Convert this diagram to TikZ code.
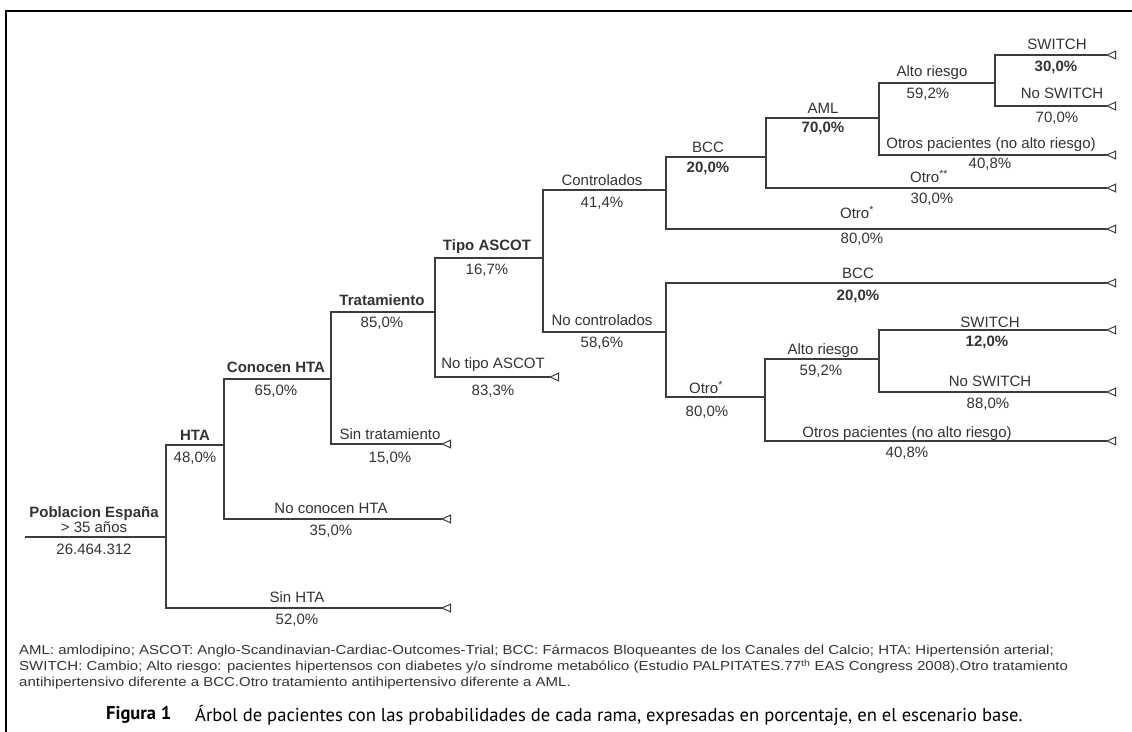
\documentclass[tikz,border=0pt]{standalone}
\usepackage{fontspec}
\setmainfont{Liberation Sans}
\newfontfamily\capfont{PT Sans}
\usetikzlibrary{arrows.meta}
\definecolor{ink}{HTML}{333333}
\definecolor{branch}{HTML}{3C3C3C}

\begin{document}
\begin{tikzpicture}[x=1pt,y=-1pt,
  lbl/.style={text=ink, inner sep=0pt, text height=10.7pt, text depth=0pt,
    font=\fontsize{15}{17}\selectfont},
  blbl/.style={lbl, font=\fontsize{15}{17}\selectfont\bfseries},
  ftxt/.style={text=ink, inner sep=0pt, anchor=west, text height=9.3pt, text depth=0pt,
    font=\fontsize{13}{15}\selectfont},
  edge/.style={draw=branch, line width=1.3pt},
  leaf/.style={edge, -{Triangle[open, reversed, length=10pt, width=9pt, line width=1pt]}},
]
\useasboundingbox (0,0) rectangle (1132,731);

% outer frame
\draw[line width=2pt, black] (6,732) -- (6,11) -- (1133,11);

% ---------- decision points ----------
\coordinate (start) at (25,537);
\coordinate (nRoot) at (166,537);
\coordinate (nHTA)  at (224,445);
\coordinate (nCon)  at (331,379);
\coordinate (nTrat) at (435,312);
\coordinate (nTipo) at (543,258);
\coordinate (nCtrl) at (666,190);
\coordinate (nBCC)  at (766,157);
\coordinate (nAML)  at (879,118);
\coordinate (nAR)   at (995,83);
\coordinate (nNoC)  at (666,332);
\coordinate (nOtro) at (765,397);
\coordinate (nAR2)  at (879,359);

% ---------- terminal points ----------
\coordinate (lSinHTA)  at (451,608);
\coordinate (lNoCon)   at (451,519);
\coordinate (lSinTrat) at (451,444);
\coordinate (lNoTipo)  at (559,377);
\coordinate (lOtroA)   at (1116,229);
\coordinate (lOtroB)   at (1116,188);
\coordinate (lOtrosA)  at (1116,155);
\coordinate (lSwA)     at (1116,55);
\coordinate (lNoSwA)   at (1116,106);
\coordinate (lBCC2)    at (1116,283);
\coordinate (lOtrosB)  at (1116,441);
\coordinate (lSwB)     at (1116,330);
\coordinate (lNoSwB)   at (1116,392);

% ---------- branches ----------
\draw[edge] (start) -- (nRoot);
\draw[edge] (nRoot) |- (nHTA);
\draw[leaf] (nRoot) |- (lSinHTA);
\draw[edge] (nHTA) |- (nCon);
\draw[leaf] (nHTA) |- (lNoCon);
\draw[edge] (nCon) |- (nTrat);
\draw[leaf] (nCon) |- (lSinTrat);
\draw[edge] (nTrat) |- (nTipo);
\draw[leaf] (nTrat) |- (lNoTipo);
\draw[edge] (nTipo) |- (nCtrl);
\draw[edge] (nTipo) |- (nNoC);
\draw[edge] (nCtrl) |- (nBCC);
\draw[leaf] (nCtrl) |- (lOtroA);
\draw[edge] (nBCC) |- (nAML);
\draw[leaf] (nBCC) |- (lOtroB);
\draw[edge] (nAML) |- (nAR);
\draw[leaf] (nAML) |- (lOtrosA);
\draw[leaf] (nAR) |- (lSwA);
\draw[leaf] (nAR) |- (lNoSwA);
\draw[leaf] (nNoC) |- (lBCC2);
\draw[edge] (nNoC) |- (nOtro);
\draw[edge] (nOtro) |- (nAR2);
\draw[leaf] (nOtro) |- (lOtrosB);
\draw[leaf] (nAR2) |- (lSwB);
\draw[leaf] (nAR2) |- (lNoSwB);

% ---------- labels ----------
\node[blbl] (tPob)  at (94,512) {Poblacion España};
\node[lbl]  (tAge)  at (94,527) {> 35 años};
\node[lbl]  (tNum)  at (94,549) {26.464.312};

\node[blbl] (tHTA)  at (195,435) {HTA};
\node[lbl]  (pHTA)  at (195,457) {48,0\%};
\node[lbl]  (tSinHTA) at (297,597) {Sin HTA};
\node[lbl]  (pSinHTA) at (297,619) {52,0\%};

\node[blbl] (tCon)  at (276,367) {Conocen HTA};
\node[lbl]  (pCon)  at (276,390) {65,0\%};
\node[lbl]  (tNoCon) at (331,508) {No conocen HTA};
\node[lbl]  (pNoCon) at (331,530) {35,0\%};

\node[blbl] (tTrat) at (382,300) {Tratamiento};
\node[lbl]  (pTrat) at (382,322) {85,0\%};
\node[lbl]  (tSinTrat) at (390,434) {Sin tratamiento};
\node[lbl]  (pSinTrat) at (390,457) {15,0\%};

\node[blbl] (tTipo) at (487,245) {Tipo ASCOT};
\node[lbl]  (pTipo) at (487,269) {16,7\%};
\node[lbl]  (tNoTipo) at (493,363) {No tipo ASCOT};
\node[lbl]  (pNoTipo) at (493,390) {83,3\%};

\node[lbl]  (tCtrl) at (602,180) {Controlados};
\node[lbl]  (pCtrl) at (602,202) {41,4\%};
\node[lbl]  (tNoC)  at (602,320) {No controlados};
\node[lbl]  (pNoC)  at (602,342) {58,6\%};

\node[lbl]  (tBCC)  at (708,147) {BCC};
\node[blbl] (pBCC)  at (708,167) {20,0\%};
\node[lbl]  (tOtroA) at (857,213) {Otro\textsuperscript{*}};
\node[lbl]  (pOtroA) at (862,238) {80,0\%};

\node[lbl]  (tAML)  at (823,108) {AML};
\node[blbl] (pAML)  at (823,127) {70,0\%};
\node[lbl]  (tOtroB) at (929,177) {Otro\textsuperscript{**}};
\node[lbl]  (pOtroB) at (932,198) {30,0\%};

\node[lbl]  (tAR)   at (932,71) {Alto riesgo};
\node[lbl]  (pAR)   at (928,93) {59,2\%};
\node[lbl]  (tOtrosA) at (991,143) {Otros pacientes (no alto riesgo)};
\node[lbl]  (pOtrosA) at (990,163) {40,8\%};

\node[lbl]  (tSwA)  at (1057,44) {SWITCH};
\node[blbl] (pSwA)  at (1056,66) {30,0\%};
\node[lbl]  (tNoSwA) at (1062,93) {No SWITCH};
\node[lbl]  (pNoSwA) at (1057,117) {70,0\%};

\node[lbl]  (tBCC2) at (858,273) {BCC};
\node[blbl] (pBCC2) at (858,295) {20,0\%};
\node[lbl]  (tOtroC) at (706,388) {Otro\textsuperscript{*}};
\node[lbl]  (pOtroC) at (707,411) {80,0\%};

\node[lbl]  (tAR2)  at (823,349) {Alto riesgo};
\node[lbl]  (pAR2)  at (821,370) {59,2\%};
\node[lbl]  (tOtrosB) at (907,432) {Otros pacientes (no alto riesgo)};
\node[lbl]  (pOtrosB) at (907,452) {40,8\%};

\node[lbl]  (tSwB)  at (990,322) {SWITCH};
\node[blbl] (pSwB)  at (987,341) {12,0\%};
\node[lbl]  (tNoSwB) at (990,381) {No SWITCH};
\node[lbl]  (pNoSwB) at (988,403) {88,0\%};

% ---------- footnote ----------
\node[ftxt] (f1) at (19,650) {\scalebox{1.153}[1]{AML: amlodipino; ASCOT: Anglo-Scandinavian-Cardiac-Outcomes-Trial; BCC: Fármacos Bloqueantes de los Canales del Calcio; HTA: Hipertensión arterial;}};
\node[ftxt] (f2) at (19,666) {\scalebox{1.153}[1]{SWITCH: Cambio; Alto riesgo: pacientes hipertensos con diabetes y/o síndrome metabólico (Estudio PALPITATES.77\textsuperscript{th} EAS Congress 2008).Otro tratamiento}};
\node[ftxt] (f3) at (19,682) {\scalebox{1.153}[1]{antihipertensivo diferente a BCC.Otro tratamiento antihipertensivo diferente a AML.}};

% ---------- caption ----------
\node[inner sep=0pt, anchor=west, text=black, font=\capfont\fontsize{18.5}{21}\selectfont\bfseries] (capA) at (106,715) {Figura 1};
\node[inner sep=0pt, anchor=west, text=black, font=\capfont\fontsize{18.6}{21}\selectfont] (capB) at (195,715) {Árbol de pacientes con las probabilidades de cada rama, expresadas en porcentaje, en el escenario base.};
\end{tikzpicture}
\end{document}
